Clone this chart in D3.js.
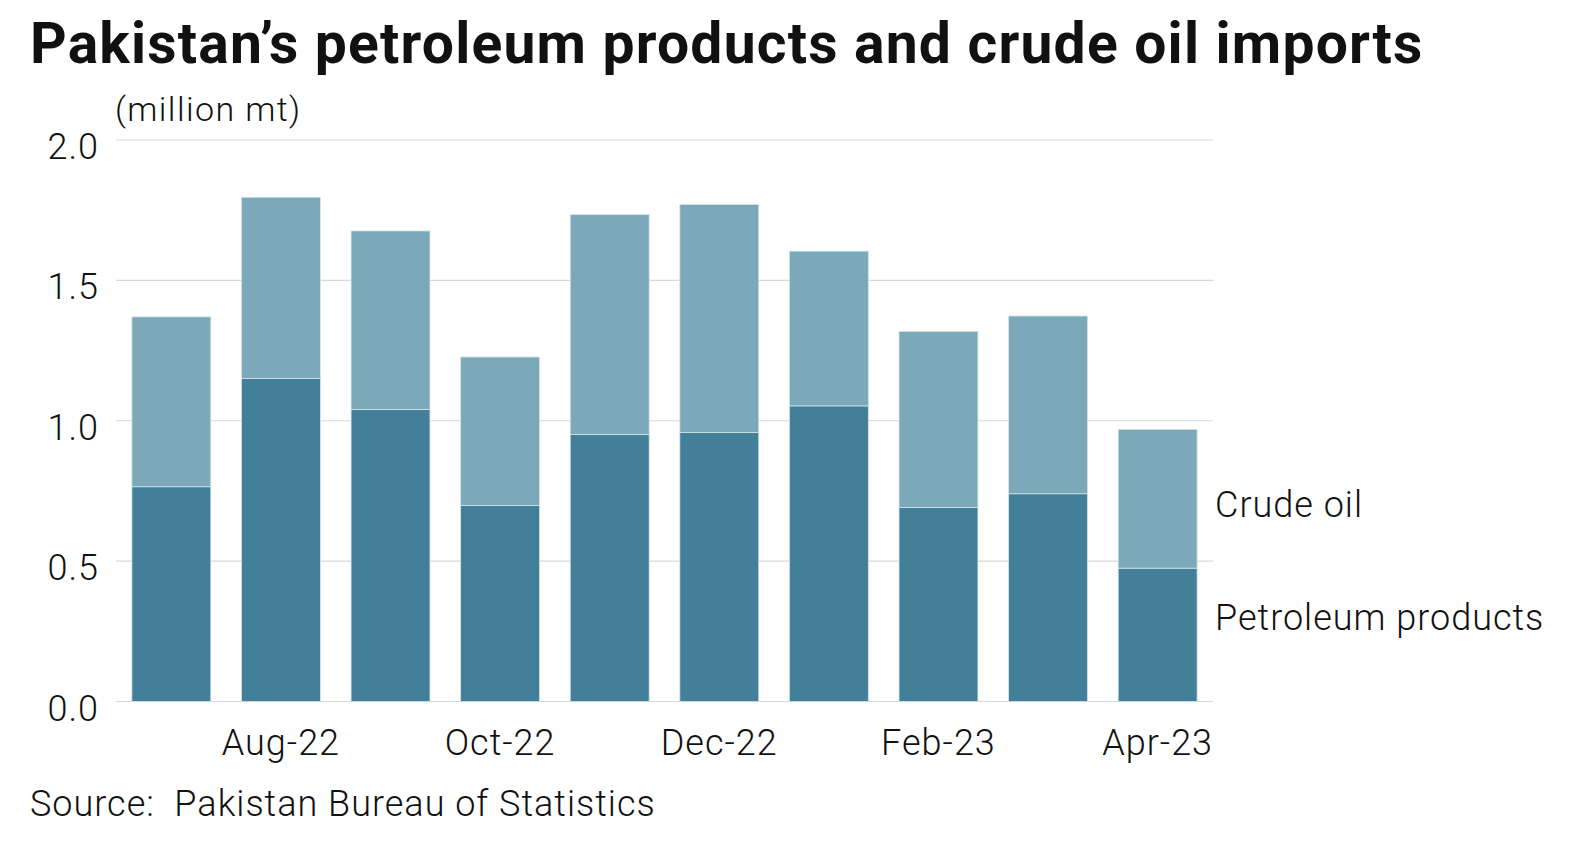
<!DOCTYPE html>
<html>
<head>
<meta charset="utf-8">
<script src="https://cdn.jsdelivr.net/npm/d3@7"></script>
<style>
  html, body { margin: 0; padding: 0; background: #ffffff; }
  svg { display: block; }
  text { font-family: Roboto, "Noto Sans", sans-serif; fill: #111111; }
</style>
</head>
<body>
<div id="chart"></div>
<script>
// ---- data ----
const months = ["Jul-22","Aug-22","Sep-22","Oct-22","Nov-22","Dec-22","Jan-23","Feb-23","Mar-23","Apr-23"];
const petroleumProducts = [0.765, 1.151, 1.040, 0.698, 0.951, 0.958, 1.053, 0.691, 0.740, 0.475];
const crudeOil          = [0.605, 0.645, 0.636, 0.529, 0.783, 0.812, 0.551, 0.627, 0.633, 0.494];
const yTicks = [0.0, 0.5, 1.0, 1.5, 2.0];
const xTickLabels = ["Aug-22","Oct-22","Dec-22","Feb-23","Apr-23"];
const seriesNames = ["Petroleum products", "Crude oil"];
const titleText = "Pakistan\u2019s petroleum products and crude oil imports";
const unitText = "(million mt)";
const sourceText = "Source:\u00a0\u00a0Pakistan Bureau of Statistics";

const W = 1576, H = 842;
const colors = { "Petroleum products": "#427f98", "Crude oil": "#7ba9ba" };

const svg = d3.select("#chart").append("svg").attr("width", W).attr("height", H);

const plot = { left: 116, right: 1213, top: 140, bottom: 701.5 };

const x = d3.scaleBand().domain(months).range([plot.left, plot.right])
  .paddingInner(0.28).paddingOuter(0.145);
const y = d3.scaleLinear().domain([0, 2]).range([plot.bottom, plot.top]);

// gridlines
svg.append("g").selectAll("line").data(yTicks).join("line")
  .attr("x1", plot.left).attr("x2", plot.right)
  .attr("y1", d => y(d)).attr("y2", d => y(d))
  .attr("stroke", "#d9d9d9").attr("stroke-width", 1.2);

const labelFont = 36, labelSpacing = 1.0;

// y labels
svg.append("g").selectAll("text").data(yTicks).join("text")
  .attr("x", 99).attr("y", d => y(d) + 19)
  .attr("text-anchor", "end").attr("font-size", labelFont).attr("font-weight", 300)
  .attr("letter-spacing", labelSpacing)
  .text(d => d3.format(".1f")(d));

// stacked data
const rows = months.map((m, i) => ({ month: m, "Petroleum products": petroleumProducts[i], "Crude oil": crudeOil[i] }));
const stack = d3.stack().keys(seriesNames)(rows);

svg.append("g").selectAll("g").data(stack).join("g")
  .attr("fill", d => colors[d.key])
  .selectAll("rect").data(d => d).join("rect")
  .attr("x", d => x(d.data.month))
  .attr("width", x.bandwidth())
  .attr("y", d => y(d[1]))
  .attr("height", d => y(d[0]) - y(d[1]))
  .attr("stroke", "#d4e3e9").attr("stroke-width", 0.8);

// x labels
svg.append("g").selectAll("text").data(xTickLabels).join("text")
  .attr("x", d => x(d) + x.bandwidth() / 2).attr("y", 755)
  .attr("text-anchor", "middle").attr("font-size", labelFont).attr("font-weight", 300)
  .attr("letter-spacing", labelSpacing)
  .text(d => d);

// direct series labels on the right
svg.append("text").attr("x", 1215).attr("y", 517)
  .attr("font-size", labelFont).attr("font-weight", 300).attr("letter-spacing", labelSpacing)
  .text(seriesNames[1]);
svg.append("text").attr("x", 1215).attr("y", 630)
  .attr("font-size", labelFont).attr("font-weight", 300).attr("letter-spacing", labelSpacing)
  .text(seriesNames[0]);

// title
svg.append("text").attr("x", 30).attr("y", 63)
  .attr("font-size", 57).attr("font-weight", 700).attr("letter-spacing", 1.2)
  .text(titleText);

// unit
svg.append("text").attr("x", 115).attr("y", 121)
  .attr("font-size", 34).attr("font-weight", 300).attr("letter-spacing", 1.4)
  .text(unitText);

// source
svg.append("text").attr("x", 30).attr("y", 816)
  .attr("font-size", labelFont).attr("font-weight", 300).attr("letter-spacing", labelSpacing)
  .text(sourceText);
</script>
</body>
</html>
